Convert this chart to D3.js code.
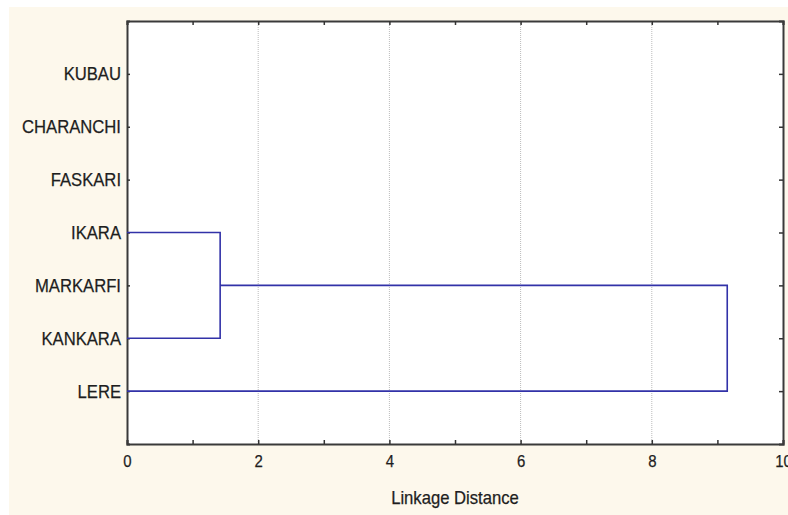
<!DOCTYPE html>
<html>
<head>
<meta charset="utf-8">
<script src="https://cdn.jsdelivr.net/npm/d3@7"></script>
<style>
  body { margin: 0; background: #fff; }
  text { font-family: "Liberation Sans", Arial, sans-serif; fill: #1e1e1e; }
</style>
</head>
<body>
<svg width="788" height="515"></svg>
<script>
// leaves, top to bottom
var leaves = ["KUBAU", "CHARANCHI", "FASKARI", "IKARA", "MARKARFI", "KANKARA", "LERE"];
// x ticks
var xTicks = [0, 2, 4, 6, 8, 10];
// merges: [top member, bottom member, linkage distance]
var merges = [
  { a: "IKARA", b: "KANKARA", dist: 1.42 },
  { a: "IKARA+KANKARA", b: "LERE", dist: 9.15 }
];

var svg = d3.select("svg"),
    pL = 127, pR = 783, pT = 21, pB = 444;

// squeeze text horizontally like the original narrow rendering
function squeeze(sel, k) {
  sel.each(function() {
    var w = this.getComputedTextLength();
    if (w > 0) d3.select(this).attr("textLength", w * k).attr("lengthAdjust", "spacingAndGlyphs");
  });
}

svg.append("rect").attr("x", 9).attr("y", 7)
  .attr("width", 779).attr("height", 508).attr("fill", "#fdf8ec");

var x = d3.scaleLinear().domain([0, 10]).range([pL, pR]);
var y = d3.scalePoint().domain(leaves).range([pT, pB]).padding(1);

var g = svg.append("g");
g.append("rect").attr("x", pL).attr("y", pT)
  .attr("width", pR - pL).attr("height", pB - pT).attr("fill", "#fff");

// dotted grid
g.selectAll(".grid").data([2, 4, 6, 8]).enter().append("line")
  .attr("x1", d => x(d)).attr("x2", d => x(d))
  .attr("y1", pT).attr("y2", pB)
  .attr("stroke", "#bbb").attr("stroke-dasharray", "1,1");

// axes
var bottomAxis = d3.axisBottom(x).tickValues(d3.range(0, 11)).tickSize(-4)
  .tickFormat(d => xTicks.indexOf(d) >= 0 ? d : "").tickPadding(9);
var ax = g.append("g").attr("transform", "translate(0," + pB + ")").call(bottomAxis);
ax.selectAll("text").attr("font-size", 17).style("font-family", "Liberation Sans, Arial, sans-serif")
  .attr("fill", "#1e1e1e").attr("stroke", "#1e1e1e").attr("stroke-width", 0.25)
  .attr("dy", "0.8em").call(squeeze, 0.88);

var topAxis = d3.axisTop(x).tickValues(d3.range(0, 11)).tickSize(-4).tickFormat("");
g.append("g").attr("transform", "translate(0," + pT + ")").call(topAxis);

var leftAxis = d3.axisLeft(y).tickSize(-3).tickPadding(6);
var ay = g.append("g").attr("transform", "translate(" + pL + ",0)").call(leftAxis);
ay.selectAll("text").attr("font-size", 18.5).style("font-family", "Liberation Sans, Arial, sans-serif")
  .attr("fill", "#1e1e1e").attr("stroke", "#1e1e1e").attr("stroke-width", 0.25)
  .call(squeeze, 0.9);

var rightAxis = d3.axisRight(y).tickSize(-4).tickFormat("");
g.append("g").attr("transform", "translate(" + pR + ",0)").call(rightAxis);

g.selectAll(".domain").attr("stroke", "#3a3a3a").attr("stroke-width", 2);
g.selectAll(".tick line").attr("stroke", "#333").attr("stroke-width", 1.5);

// dendrogram links
var pos = {};
leaves.forEach(function(l) { pos[l] = { y: y(l), x: 0 }; });
var path = "";
merges.forEach(function(m) {
  var pa = pos[m.a], pb = pos[m.b];
  path += "M" + x(pa.x) + "," + pa.y + "H" + x(m.dist) + "V" + pb.y + "H" + x(pb.x);
  pos[m.a + "+" + m.b] = { y: (pa.y + pb.y) / 2, x: m.dist };
});
g.append("path").attr("d", path).attr("fill", "none")
  .attr("stroke", "#3232a8").attr("stroke-width", 1.6);

svg.append("text").attr("x", (pL + pR) / 2).attr("y", 504)
  .attr("text-anchor", "middle").attr("font-size", 18.5)
  .attr("stroke", "#1e1e1e").attr("stroke-width", 0.25).text("Linkage Distance")
  .call(squeeze, 0.9);
</script>
</body>
</html>
